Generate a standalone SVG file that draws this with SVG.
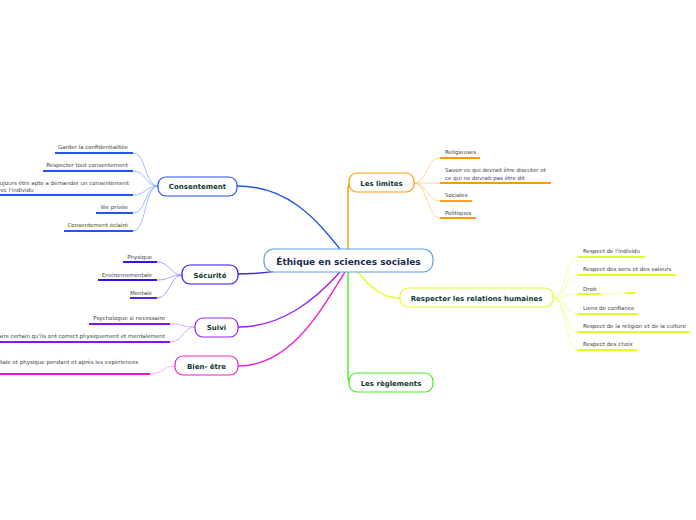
<svg xmlns="http://www.w3.org/2000/svg" width="696" height="520" viewBox="0 0 696 520">
<style>
.bg{fill:#ffffff}
.node{fill:#ffffff;stroke-width:1.2}
.nt{font-family:"DejaVu Sans",Verdana,sans-serif;font-weight:bold;font-size:7px;fill:#0d3b2e;text-anchor:middle}
.ct{font-family:"DejaVu Sans",Verdana,sans-serif;font-weight:bold;font-size:9px;fill:#1b2d4d;text-anchor:middle}
.lt{font-family:"DejaVu Sans",Verdana,sans-serif;font-size:5.5px;fill:#444444}
.r{text-anchor:end}
.main{fill:none;stroke-width:1.4}
.sub{fill:none;stroke-width:0.8}
.ul{fill:none;stroke-width:1.8}
</style>
<rect class="bg" width="696" height="520"/>
<g id="connectors">
  <!-- main branches -->
  <path class="main" stroke="#2255ee" d="M237,186 C290,186 318,222 340,249"/>
  <path class="main" stroke="#4422dd" d="M238,274 C262,274 276,271 296,269"/>
  <path class="main" stroke="#9922ee" d="M238,327 C282,327 315,300 340,272"/>
  <path class="main" stroke="#ee22cc" d="M238,366 C292,366 322,308 345,272"/>
  <path class="main" stroke="#ff9900" d="M348,249 L348,190 Q348,183 352,183"/>
  <path class="main" stroke="#44ee22" d="M348,272 L348,377 Q348,383 352,383"/>
  <path class="main" stroke="#ddff22" d="M358,272 C375,294 388,298 400,298"/>
  <!-- Consentement children -->
  <g stroke="#88aaff">
    <path class="sub" d="M158,186 C145,186 146,153 133,153"/>
    <path class="sub" d="M158,186 C145,186 146,171 133,171"/>
    <path class="sub" d="M158,186 C145,186 146,195 133,195"/>
    <path class="sub" d="M158,186 C145,186 146,213 133,213"/>
    <path class="sub" d="M158,186 C145,186 146,231 133,231"/>
  </g>
  <g stroke="#2255ee">
    <path class="ul" d="M55,153 H133"/>
    <path class="ul" d="M43,171 H133"/>
    <path class="ul" d="M0,195 H133"/>
    <path class="ul" d="M96,213 H133"/>
    <path class="ul" d="M64,231 H133"/>
  </g>
  <!-- Sécurité children -->
  <g stroke="#9988ff">
    <path class="sub" d="M182,275 C170,275 170,262 157,262"/>
    <path class="sub" d="M182,275 C170,275 170,280 157,280"/>
    <path class="sub" d="M182,275 C170,275 170,298 157,298"/>
  </g>
  <g stroke="#3311ee">
    <path class="ul" d="M123,262 H157"/>
    <path class="ul" d="M98,280 H157"/>
    <path class="ul" d="M130,298 H157"/>
  </g>
  <!-- Suivi children -->
  <g stroke="#cc99ff">
    <path class="sub" d="M195,327 C183,327 183,324 170,324"/>
    <path class="sub" d="M195,327 C183,327 183,342 170,342"/>
  </g>
  <g stroke="#8811ee">
    <path class="ul" d="M89,324 H170"/>
    <path class="ul" d="M0,342 H170"/>
  </g>
  <!-- Bien-être child -->
  <path class="sub" stroke="#ff99ee" d="M175,366 C163,366 163,374 150,374"/>
  <path class="ul" stroke="#ee11cc" d="M0,374 H150"/>
  <!-- Les limites children -->
  <g stroke="#ffcc77">
    <path class="sub" d="M414,183 C427,183 427,158 440,158"/>
    <path class="sub" d="M414,183 C427,183 427,183 440,183"/>
    <path class="sub" d="M414,183 C427,183 427,201 440,201"/>
    <path class="sub" d="M414,183 C427,183 427,218 440,218"/>
  </g>
  <g stroke="#ff9900">
    <path class="ul" d="M440,158 H480"/>
    <path class="ul" d="M440,183 H551"/>
    <path class="ul" d="M440,201 H472"/>
    <path class="ul" d="M440,218 H476"/>
  </g>
  <!-- Respecter children -->
  <g stroke="#eeff88">
    <path class="sub" d="M553,298 C566,298 565,257 578,257"/>
    <path class="sub" d="M553,298 C566,298 565,275 578,275"/>
    <path class="sub" d="M553,298 C566,298 565,294 578,294"/>
    <path class="sub" d="M553,298 C566,298 565,314 578,314"/>
    <path class="sub" d="M553,298 C566,298 565,332 578,332"/>
    <path class="sub" d="M553,298 C566,298 565,350 578,350"/>
    <path class="sub" d="M601,294 C612,294 615,293 625,293"/>
  </g>
  <g stroke="#ddff22">
    <path class="ul" d="M578,257 H645"/>
    <path class="ul" d="M578,275 H676"/>
    <path class="ul" d="M578,294 H601"/>
    <path class="ul" d="M625,293 H636"/>
    <path class="ul" d="M578,314 H638"/>
    <path class="ul" d="M578,332 H690"/>
    <path class="ul" d="M578,350 H637"/>
  </g>
</g>
<g id="central">
  <rect class="node" x="264" y="249" width="169" height="23" rx="10" stroke="#5aa2e0"/>
  <text class="ct" x="348.5" y="264.5">Éthique en sciences sociales</text>
</g>
<g id="consentement">
  <rect class="node" x="158" y="177" width="79" height="19" rx="8" stroke="#2255ee"/>
  <text class="nt" x="197.5" y="189">Consentement</text>
  <text class="lt r" x="128" y="149">Garder la confidentialitée</text>
  <text class="lt r" x="128" y="167">Respecter tout consentement</text>
  <text class="lt" x="-6" y="185">Toujours être apte a demander un consentement</text>
  <text class="lt" x="-6" y="192">avec l'individu</text>
  <text class="lt r" x="128" y="209">Vie privée</text>
  <text class="lt r" x="128" y="227">Consentement éclairé</text>
</g>
<g id="securite">
  <rect class="node" x="182" y="265" width="56" height="19" rx="8" stroke="#3311ee"/>
  <text class="nt" x="210" y="277.5">Sécurité</text>
  <text class="lt r" x="152" y="259">Physique</text>
  <text class="lt r" x="152" y="277">Environnementale</text>
  <text class="lt r" x="152" y="295">Mentale</text>
</g>
<g id="suivi">
  <rect class="node" x="195" y="318" width="43" height="19" rx="8" stroke="#9922ee"/>
  <text class="nt" x="216.5" y="330">Suivi</text>
  <text class="lt r" x="165" y="320">Psychologue si necessaire</text>
  <text class="lt r" x="165" y="338">Faire certain qu'ils ont correct physiquement et mentalement</text>
</g>
<g id="bienetre">
  <rect class="node" x="175" y="356" width="63" height="19" rx="8" stroke="#ee22cc"/>
  <text class="nt" x="206.5" y="368.5">Bien- être</text>
  <text class="lt" x="-12" y="364">mentale et physique pendant et après les expériences</text>
</g>
<g id="limites">
  <rect class="node" x="349" y="173" width="65" height="19" rx="8" stroke="#ff9900"/>
  <text class="nt" x="381.5" y="185.5">Les limites</text>
  <text class="lt" x="445" y="154">Religieuses</text>
  <text class="lt" x="445" y="172">Savoir ce qui devrait être discuter et</text>
  <text class="lt" x="445" y="179.5">ce qui ne devrait pas être dit</text>
  <text class="lt" x="445" y="197">Sociales</text>
  <text class="lt" x="445" y="215">Politiques</text>
</g>
<g id="respecter">
  <rect class="node" x="400" y="288" width="153" height="19" rx="8" stroke="#ddff22"/>
  <text class="nt" x="476.5" y="300.5">Respecter les relations humaines</text>
  <text class="lt" x="583" y="253">Respect de l'individu</text>
  <text class="lt" x="583" y="271">Respect des sens et des valeurs</text>
  <text class="lt" x="583" y="291">Droit</text>
  <text class="lt" x="583" y="310">Liens de confiance</text>
  <text class="lt" x="583" y="328">Respect de la religion et de la culture</text>
  <text class="lt" x="583" y="346">Respect des choix</text>
</g>
<g id="reglements">
  <rect class="node" x="349" y="373" width="84" height="19" rx="8" stroke="#44ee22"/>
  <text class="nt" x="391" y="385.5">Les règlements</text>
</g>
</svg>
